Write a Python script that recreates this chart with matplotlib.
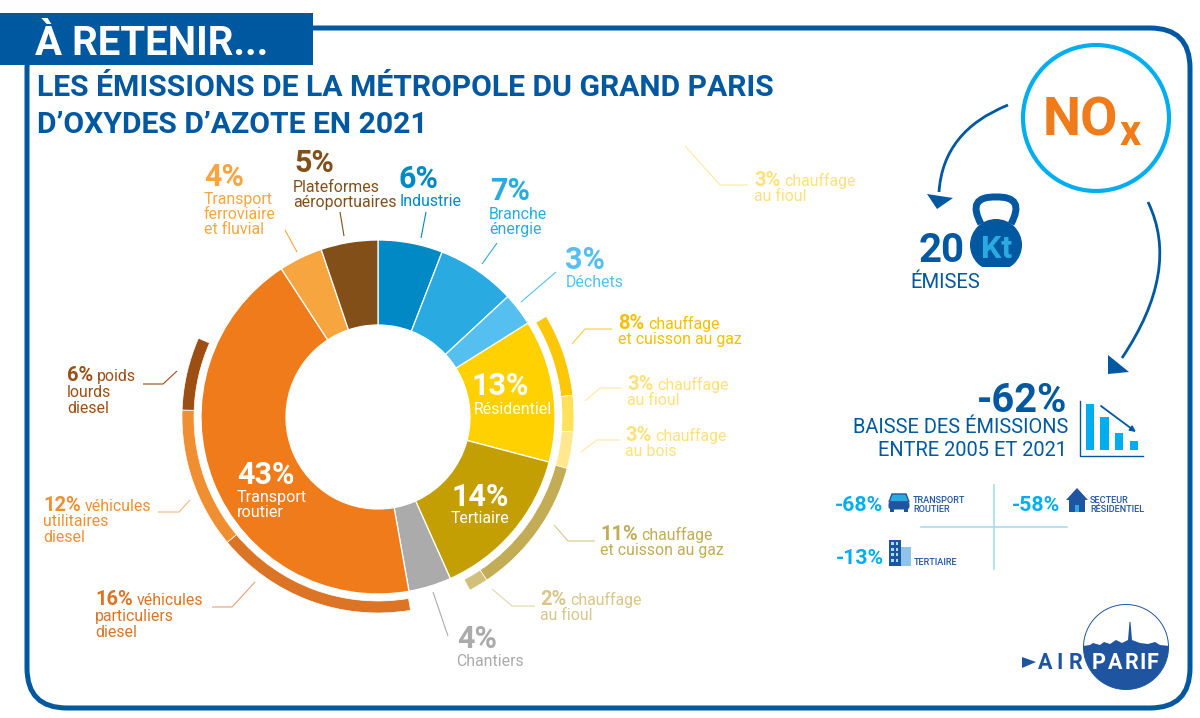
"""NOx emissions infographic, Grand Paris 2021."""

import matplotlib

matplotlib.use("Agg")
import matplotlib.pyplot as plt
from matplotlib.patches import Circle, FancyBboxPatch, PathPatch, Polygon, Rectangle
from matplotlib.path import Path

plt.rcParams["font.family"] = ["Roboto", "DejaVu Sans"]

# inner donut, clockwise from the top
sector_names = ["Industrie", "Branche énergie", "Déchets", "Résidentiel", "Tertiaire",
                "Chantiers", "Transport routier", "Transport ferroviaire", "Plateformes"]
sector_shares = [5.9, 7.2, 3.0, 13.0, 14.2, 3.9, 43.6, 4.0, 5.2]
sector_colors = ["#0089C4", "#29ABE2", "#55C0EF", "#FFD100", "#C39F04",
                 "#ABABAB", "#F07B1A", "#F7A63F", "#824F19"]

# outer detail ring, gaps are the stretches with no detail
ring_shares = [16.4, 6.8, 3.0, 3.0, 11.4, 1.6, 5.1, 16.6, 11.6, 6.0, 18.4]
ring_colors = ["none", "#FBC707", "#FFE15A", "#FFE88E", "#C3AC56", "#D2BF7A",
               "none", "#DC7425", "#F08F32", "#9C4E13", "none"]

trend_bars = [46, 33, 17, 9]

BLUE = "#0058A0"
DARK = "#1F55A0"
CYAN = "#00AEEF"

fig = plt.figure(figsize=(12, 7.18), dpi=100)

# overlay in pixel coordinates for everything else
ax = fig.add_axes([0, 0, 1, 1])
ax.set_xlim(0, 1200)
ax.set_ylim(718, 0)
ax.axis("off")

# donut axes, 400 px square centred on the chart
ax_d = fig.add_axes([178 / 1200, (718 - 417 - 200) / 718, 400 / 1200, 400 / 718], zorder=-1)
ax_d.pie(sector_shares, colors=sector_colors, startangle=90, counterclock=False, radius=177,
         wedgeprops={"width": 85, "edgecolor": "white", "linewidth": 0.9})
wedges, _ = ax_d.pie(ring_shares, colors=ring_colors, startangle=90, counterclock=False, radius=196,
                     wedgeprops={"width": 12, "edgecolor": "white", "linewidth": 0.5})
for w, c in zip(wedges, ring_colors):
    if c == "none":
        w.set_edgecolor("none")
ax_d.set_xlim(-200, 200)
ax_d.set_ylim(-200, 200)


def txt(x, y, s, color, size=11.4, weight="normal", ha="left"):
    return ax.text(x, y, s, color=color, fontsize=size, fontweight=weight, ha=ha, va="baseline")


def label(x, y, pct, first, rest, color, size=14.5, step=15):
    """Bold percent followed by regular text on the same line, then the other lines."""
    t = txt(x, y, pct, color, size, "bold")
    x1 = t.get_window_extent(fig.canvas.get_renderer()).x1
    if first:
        txt(x1 + 4, y, first, color)
    for i, line in enumerate(rest):
        txt(x, y + (i + 1) * step, line, color)


def leader(points, color):
    ax.plot(*zip(*points), color=color, lw=0.8, solid_capstyle="butt")


# frame and banner
ax.add_patch(FancyBboxPatch((67, 68), 1083, 600, boxstyle="round,pad=40,rounding_size=40",
                            fc="none", ec=BLUE, lw=3.6, zorder=0))
ax.add_patch(Rectangle((0, 13), 313, 52, fc=BLUE, ec="none", zorder=1))
txt(35, 55, "À RETENIR...", "white", 29, "bold")
txt(37, 96, "LES ÉMISSIONS DE LA MÉTROPOLE DU GRAND PARIS", BLUE, 21.7, "bold")
txt(37, 133, "D’OXYDES D’AZOTE EN 2021", BLUE, 21.7, "bold")

# sector labels around the donut
for x, y, pct, lines, color, pct_x, pct_y in [
    (204, 204, "4%", ["Transport", "ferroviaire", "et fluvial"], "#F7A63F", 204, 186),
    (293, 192, "5%", ["Plateformes", "aéroportuaires"], "#824F19", 294, 172),
    (400, 206, "6%", ["Industrie"], "#0089C4", 399, 188),
    (489, 219, "7%", ["Branche", "énergie"], "#29ABE2", 490, 200),
    (566, 287, "3%", ["Déchets"], "#55C0EF", 565, 269),
    (456, 666, "4%", ["Chantiers"], "#ABABAB", 457, 648),
]:
    txt(pct_x, pct_y, pct, color, 22, "bold")
    for i, line in enumerate(lines):
        txt(x, y + i * 15, line, color)

label(754, 186, "3%", "chauffage", ["au fioul"], "#FFE07A")
label(618, 329, "8%", "chauffage", ["et cuisson au gaz"], "#F5C000")
label(627, 390, "3%", "chauffage", ["au fioul"], "#FFE07A")
label(625, 441, "3%", "chauffage", ["au bois"], "#FFE07A")
label(600, 540, "11%", "chauffage", ["et cuisson au gaz"], "#C3AC56")
label(540, 605, "2%", "chauffage", ["au fioul"], "#D8C789")
label(95, 605, "16%", "véhicules", ["particuliers", "diesel"], "#DC7425", step=16)
label(43, 511, "12%", "véhicules", ["utilitaires", "diesel"], "#F08F32", step=15.5)
label(67, 381, "6%", "poids", ["lourds", "diesel"], "#9C4E13", step=16)

leader([(685, 146), (720, 185), (748, 185)], "#FFE9A0")
leader([(572, 344), (585, 329), (612, 329)], "#F5CF40")
leader([(585, 401), (600, 388), (622, 388)], "#FFE9A0")
leader([(581, 452), (597, 440), (620, 440)], "#FFE9A0")
leader([(554, 525), (568, 541), (595, 541)], "#D8C789")
leader([(492, 589), (512, 606), (535, 606)], "#E2D6A8")
leader([(433, 592), (448, 636)], "#ABABAB")
leader([(255, 582), (232, 607), (212, 607)], "#E8A070")
leader([(190, 500), (179, 512), (158, 512)], "#F5B880")
leader([(177, 371), (163, 384), (143, 384)], "#9C4E13")
leader([(285, 230), (297, 252)], "#F7A63F")
leader([(340, 212), (344, 236)], "#824F19")
leader([(426, 212), (421, 238)], "#0089C4")
leader([(497, 243), (482, 264)], "#29ABE2")
leader([(556, 272), (521, 302)], "#55C0EF")

# labels inside the donut
txt(237, 484, "43%", "white", 22, "bold")
txt(237, 502, "Transport", "white", 11.6)
txt(237, 517, "routier", "white", 11.6)
txt(472, 395, "13%", "white", 22, "bold")
txt(474, 414, "Résidentiel", "white", 11.4)
txt(451, 506, "14%", "white", 22, "bold")
txt(451, 523, "Tertiaire", "white", 11.4)

# NOx badge and arrows
ax.add_patch(Circle((1096, 118), 73, fc="none", ec=CYAN, lw=3))
txt(1043, 136, "NO", "#F07B1A", 39, "bold")
txt(1120, 145, "x", "#F07B1A", 30, "bold")
for pts in [[(1008, 105), (943, 131), (939, 192)], [(1148, 202), (1181, 270), (1122, 358)]]:
    ax.add_patch(PathPatch(Path(pts, [Path.MOVETO, Path.CURVE3, Path.CURVE3]), fc="none", ec=BLUE, lw=2))
ax.add_patch(Polygon([(927, 194), (953, 198), (937, 209)], fc=BLUE, ec="none"))
ax.add_patch(Polygon([(1108, 355), (1129, 372), (1108, 374)], fc=BLUE, ec="none"))

# kettlebell
ax.add_patch(PathPatch(Path([(981, 224), (966, 196), (996, 197), (1026, 196), (1011, 224)],
                            [Path.MOVETO, Path.CURVE3, Path.CURVE3, Path.CURVE3, Path.CURVE3]),
                       fc="none", ec=BLUE, lw=5))
bell = Circle((996, 245), 26, fc=BLUE, ec="none")
ax.add_patch(bell)
bell.set_clip_path(Rectangle((960, 210), 80, 57, transform=ax.transData))
txt(981, 258, "Kt", "#29ABE2", 23, "bold")
txt(919, 262, "20", BLUE, 29, "bold")
txt(910, 288, "ÉMISES", BLUE, 14.6)

# -62% block
txt(1067, 412, "-62%", BLUE, 28.6, "bold", ha="right")
txt(1068, 433, "BAISSE DES ÉMISSIONS", BLUE, 14.4, ha="right")
txt(1067, 456, "ENTRE 2005 ET 2021", BLUE, 14.4, ha="right")
ax.plot([1080, 1080, 1143], [401, 456, 456], color=BLUE, lw=1)
for i, h in enumerate(trend_bars):
    ax.add_patch(Rectangle((1085.7 + 14.7 * i, 450 - h), 8.3, h, fc=CYAN, ec="none"))
ax.annotate("", xy=(1136, 432), xytext=(1101, 406),
            arrowprops={"arrowstyle": "-|>", "color": BLUE, "lw": 1.3, "mutation_scale": 8,
                        "shrinkA": 0, "shrinkB": 0})

# sector reductions
ax.plot([993.5, 993.5], [485, 569], color="#A8DDF5", lw=1.2)
ax.plot([921, 1067], [526.5, 526.5], color="#A8DDF5", lw=1.2)
txt(835, 511, "-68%", CYAN, 15.3, "bold")
txt(1012, 511, "-58%", CYAN, 15.3, "bold")
txt(836, 564, "-13%", CYAN, 15.3, "bold")
txt(913, 503, "TRANSPORT", DARK, 6.6, "medium")
txt(913, 512, "ROUTIER", DARK, 6.6, "medium")
txt(1090, 503, "SECTEUR", DARK, 6.6, "medium")
txt(1090, 512, "RÉSIDENTIEL", DARK, 6.6, "medium")
txt(914, 565, "TERTIAIRE", DARK, 6.6, "medium")

# car
ax.add_patch(Polygon([(892, 494), (906, 494), (909, 502), (889, 502)], fc="#29ABE2", ec=DARK, lw=1))
ax.add_patch(FancyBboxPatch((889, 502), 20, 7, boxstyle="round,pad=0.5,rounding_size=3", fc=DARK, ec="none"))
ax.add_patch(Rectangle((890, 508), 4, 4, fc=DARK, ec="none"))
ax.add_patch(Rectangle((904, 508), 4, 4, fc=DARK, ec="none"))

# house
ax.add_patch(Polygon([(1066, 500), (1077, 488), (1088, 500), (1085, 500), (1085, 512), (1069, 512), (1069, 500)],
                     fc=DARK, ec="none"))
ax.add_patch(Rectangle((1075, 505), 4, 7, fc="#29ABE2", ec="none"))

# buildings
ax.add_patch(Rectangle((889, 540), 12, 26, fc=DARK, ec="none"))
ax.add_patch(Rectangle((901, 547), 10, 19, fc="#8FC4E8", ec="none"))
for row in range(4):
    for col in range(2):
        ax.add_patch(Rectangle((891 + 4.5 * col, 542 + 5.5 * row), 2.5, 3, fc="#A8DDF5", ec="none"))

# logo
logo = Circle((1126, 647), 42.5, fc="white", ec=DARK, lw=0.7)
ax.add_patch(logo)
skyline = Polygon([(1083, 646), (1090, 645), (1093, 643), (1100, 645), (1104, 642), (1110, 644), (1116, 640),
                   (1122, 643), (1128, 640), (1129.5, 622), (1130.5, 622), (1132, 640), (1140, 643), (1148, 644),
                   (1155, 642), (1160, 645), (1170, 646), (1170, 692), (1083, 692)], fc=DARK, ec="none")
ax.add_patch(skyline)
skyline.set_clip_path(logo)
ax.add_patch(Polygon([(1022, 657), (1036, 662), (1022, 668)], fc=DARK, ec="none"))
for x, ch in zip([1045, 1060, 1076], "AIR"):
    txt(x, 669, ch, DARK, 15.5, "bold", ha="center")
for x, ch in zip([1099, 1115, 1132, 1143, 1153], "PARIF"):
    txt(x, 669, ch, "white", 15.5, "bold", ha="center")

fig.savefig("out.png", dpi=100)
